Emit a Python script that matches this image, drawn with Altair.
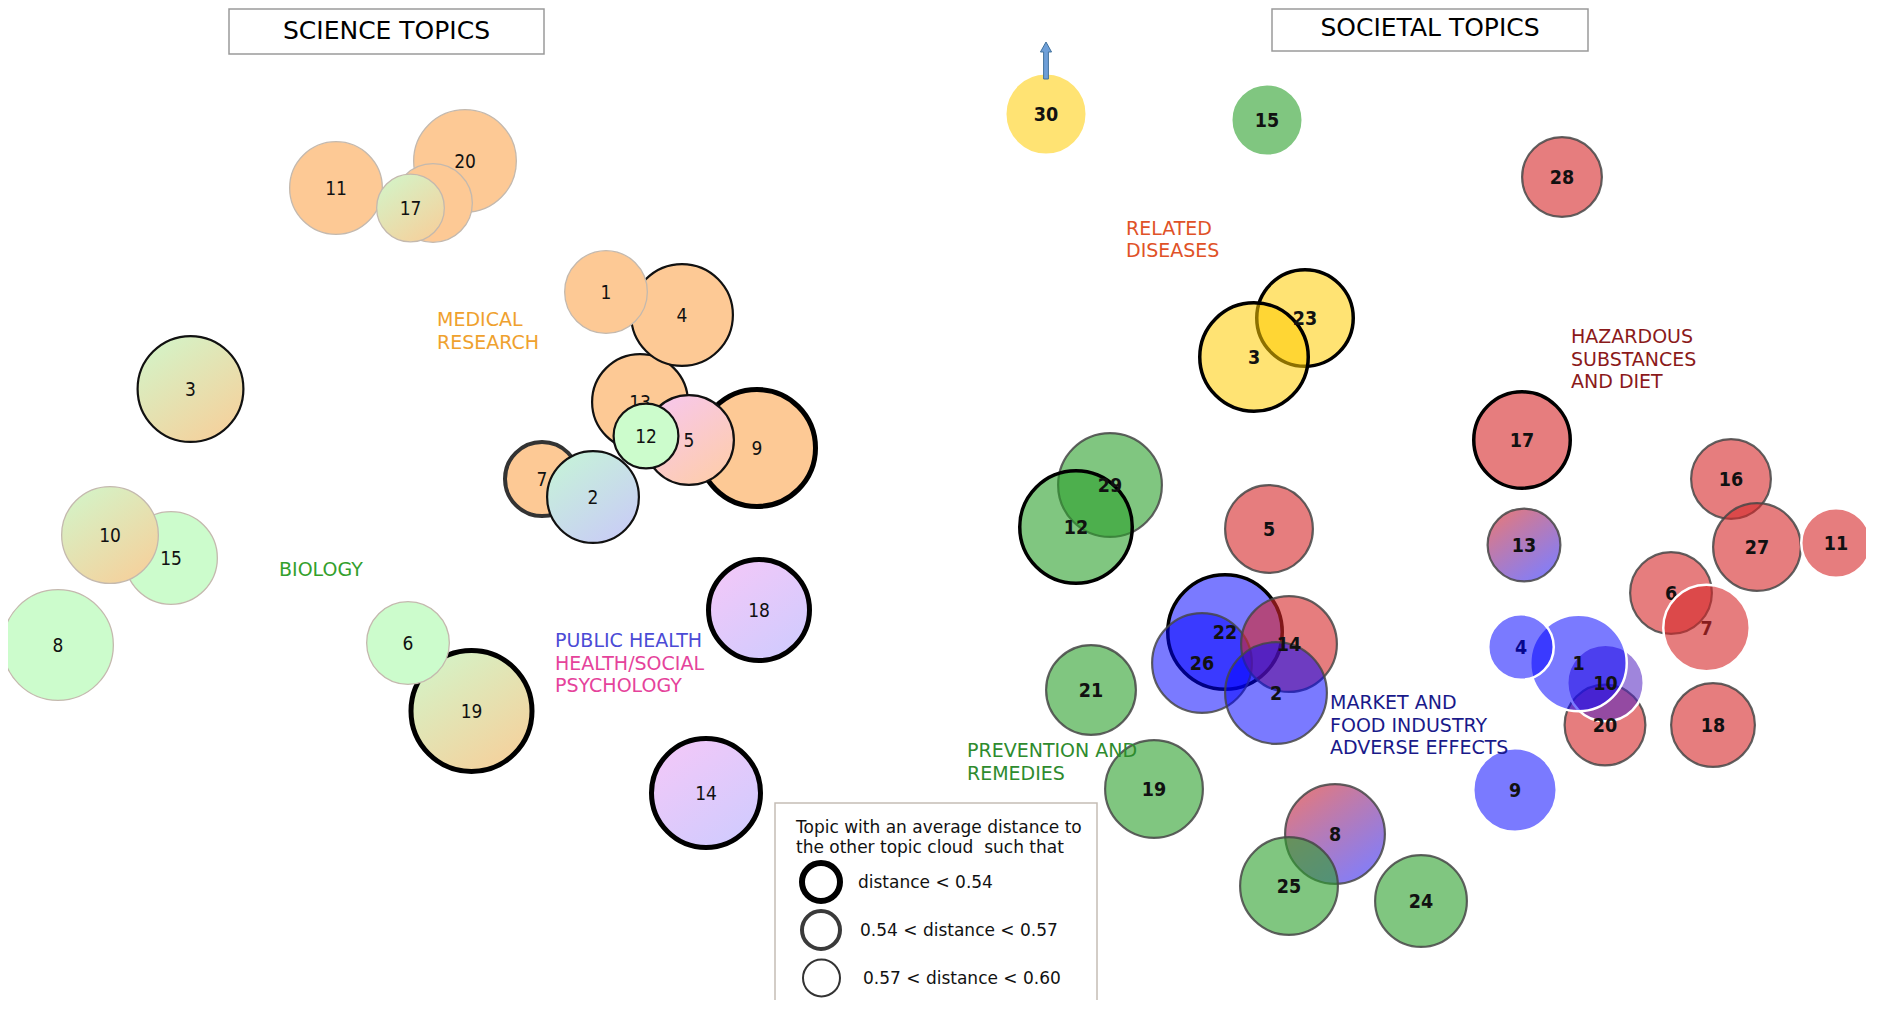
import altair as alt
import pandas as pd

W, H = 1858, 992
X0, Y0 = 8, 8

# ---------------- science topic cloud ----------------
SCI_TOPIC = [11, 20, 13, 4, 9, 7, 3, 8, 15, 19, 18, 14, 16, 1, 5, 2, 6, 10, 17, 12]
SCI_X = [336, 465, 640, 682, 757, 542, 190.5, 58, 171, 471.5, 759, 706, 433, 606, 689, 593, 408, 110, 410.5, 646]
SCI_Y = [188, 161, 402, 315, 448, 479, 389, 645, 558, 711, 610, 793, 203, 292, 440, 497, 643, 535, 208, 436]
SCI_R = [47, 52, 49, 52, 61, 39, 54, 56, 47, 63, 53, 57, 40, 42, 46, 47, 42, 49, 34.5, 33.5]
SCI_GROUP = ["medical", "medical", "medical", "medical", "medical", "medical", "bio-med", "biology",
             "biology", "bio-med", "psychology", "psychology", "medical", "medical", "psy-med",
             "bio-public", "biology", "bio-med", "bio-med", "biology"]
SCI_DIST = [">0.60", ">0.60", "0.57-0.60", "0.57-0.60", "<0.54", "0.54-0.57", "0.57-0.60", ">0.60",
            ">0.60", "<0.54", "<0.54", "<0.54", ">0.60", ">0.60", "0.57-0.60", "0.57-0.60",
            ">0.60", ">0.60", ">0.60", "0.57-0.60"]
SCI_LAYER = [0, 0, 0, 0, 0, 0, 0, 0, 0, 0, 0, 0, 1, 1, 1, 1, 1, 1, 2, 2]

# ---------------- societal topic cloud ----------------
SOC_TOPIC = [30, 15, 28, 23, 3, 17, 16, 29, 12, 5, 13, 27, 11, 6, 22, 26, 14, 2, 21, 20, 10, 1,
             18, 9, 19, 8, 25, 24, 4, 7]
SOC_X = [1046, 1267, 1562, 1305, 1254, 1522, 1731, 1110, 1076, 1269, 1524, 1757, 1836, 1671, 1225,
         1202, 1289, 1276, 1091, 1605, 1605.5, 1578.5, 1713, 1515, 1154, 1335, 1289, 1421, 1521, 1706.5]
SOC_Y = [114, 120, 177, 318, 357, 440, 479, 485, 527, 529, 545, 547, 543, 593, 632, 663, 644, 693,
         690, 725, 683, 663, 725, 790, 789, 834, 886, 901, 647, 628]
SOC_R = [42, 37, 41, 50, 56, 50, 41, 53, 58, 45, 37.5, 45, 36, 42, 59, 51, 49, 52, 46, 41.5, 39.5,
         49.5, 43, 43, 50, 51, 50, 47, 34, 44.5]
SOC_GROUP = ["diseases", "prevention", "hazardous", "diseases", "diseases", "hazardous", "hazardous",
             "prevention", "prevention", "hazardous", "haz-market", "hazardous", "hazardous",
             "hazardous", "market", "market", "hazardous", "market", "prevention", "hazardous",
             "mixed", "market", "hazardous", "market", "prevention", "haz-market", "prevention",
             "prevention", "market", "hazardous"]
SOC_DIST = [">0.60", ">0.60", "0.57-0.60", "<0.54", "<0.54", "<0.54", "0.57-0.60", "0.57-0.60",
            "<0.54", "0.57-0.60", "0.57-0.60", "0.57-0.60", ">0.60", "0.57-0.60", "<0.54",
            "0.57-0.60", "0.57-0.60", "0.57-0.60", "0.57-0.60", "0.57-0.60", ">0.60", ">0.60",
            "0.57-0.60", ">0.60", "0.57-0.60", "0.57-0.60", "0.57-0.60", "0.57-0.60", ">0.60", ">0.60"]
SOC_LAYER = [0] * 28 + [1, 1]

# ---------------- annotation texts ----------------
CAT_TEXT = ["MEDICAL\nRESEARCH", "BIOLOGY", "PUBLIC HEALTH", "HEALTH/SOCIAL\nPSYCHOLOGY",
            "RELATED\nDISEASES", "HAZARDOUS\nSUBSTANCES\nAND DIET", "PREVENTION AND\nREMEDIES",
            "MARKET AND\nFOOD INDUSTRY\nADVERSE EFFECTS"]
CAT_X = [437, 279, 555, 555, 1126, 1571, 967, 1330]
CAT_Y = [319, 568.5, 640, 662.5, 227.5, 336, 750, 702]
CAT_COLOR = ["#EFA12E", "#33A02C", "#4B4BD6", "#E5439B", "#E05228", "#8B1A1A", "#2E8B2E", "#1A1A8A"]

TITLES = ["SCIENCE TOPICS", "SOCIETAL TOPICS"]
TITLE_X = [386.5, 1430]
TITLE_Y = [30, 27]
TITLE_HALF_W = [157.5, 158]
TITLE_HALF_H = [24, 24]

LEGEND_TITLE = ["Topic with an average distance to", "the other topic cloud\u00a0 such that"]
LEGEND_ITEMS = ["distance < 0.54", "0.54 < distance < 0.57", "0.57 < distance < 0.60"]


def grad(c1, c2):
    return {"gradient": "linear", "x1": 0.15, "y1": 0.0, "x2": 0.85, "y2": 1.0,
            "stops": [{"offset": 0, "color": c1}, {"offset": 1, "color": c2}]}


FILL = {
    "science": {
        "medical": "#FDC995", "biology": "#CCFCCC",
        "bio-med": grad("#D3F4C8", "#F7CF9A"), "bio-public": grad("#C6F3D8", "#C9CBF7"),
        "psy-med": grad("#F7C7EE", "#FECDA9"), "psychology": grad("#F3C8F8", "#CFCBFE"),
    },
    "societal": {
        "diseases": "rgba(255,204,0,0.55)", "prevention": "rgba(44,160,44,0.6)",
        "hazardous": "rgba(214,39,40,0.6)", "market": "rgba(0,0,255,0.52)",
        "mixed": "rgba(80,32,192,0.55)",
        "haz-market": grad("rgba(214,39,40,0.62)", "rgba(20,20,255,0.55)"),
    },
}
STROKE = {
    "science": {"<0.54": ("#000000", 5), "0.54-0.57": ("#333333", 4),
                "0.57-0.60": ("#111111", 2.2), ">0.60": ("#C4B9AE", 1.3)},
    "societal": {"<0.54": ("#000000", 3.5), "0.54-0.57": ("#333333", 3),
                 "0.57-0.60": ("rgba(70,70,70,0.85)", 2.2), ">0.60": ("#FFFFFF", 2.5)},
}

rows = []
for side, T, X, Y, R, G, D, L in [
    ("science", SCI_TOPIC, SCI_X, SCI_Y, SCI_R, SCI_GROUP, SCI_DIST, SCI_LAYER),
    ("societal", SOC_TOPIC, SOC_X, SOC_Y, SOC_R, SOC_GROUP, SOC_DIST, SOC_LAYER),
]:
    for t, x, y, r, g, d, lv in zip(T, X, Y, R, G, D, L):
        col, sw = STROKE[side][d]
        rows.append(dict(side=side, topic=str(t), x=x, y=y, r=r - sw / 2.0,
                         fill=FILL[side][g], stroke=col, sw=sw, z=lv,
                         tz=(lv if side == "science" else 0)))
bubbles = pd.DataFrame(rows)

cat_rows = []
for txt, x, y, c in zip(CAT_TEXT, CAT_X, CAT_Y, CAT_COLOR):
    for i, line in enumerate(txt.split("\n")):
        cat_rows.append(dict(text=line, x=x, y=y + 1 + i * 22.7, color=c))
cats = pd.DataFrame(cat_rows)

titles = pd.DataFrame(dict(text=TITLES, x=TITLE_X, y=TITLE_Y,
                           x1=[a - b for a, b in zip(TITLE_X, TITLE_HALF_W)],
                           x2=[a + b for a, b in zip(TITLE_X, TITLE_HALF_W)],
                           y1=[max(a - b, Y0 + 1) for a, b in zip(TITLE_Y, TITLE_HALF_H)],
                           y2=[a + b for a, b in zip(TITLE_Y, TITLE_HALF_H)]))

legend_box = pd.DataFrame(dict(x1=[775], x2=[1097], y1=[803], y2=[1040]))
legend_title = pd.DataFrame(dict(text=LEGEND_TITLE, x=[796, 796], y=[827, 847]))
legend_items = pd.DataFrame(dict(text=LEGEND_ITEMS, sx=[821, 821, 821.5], tx=[858, 860, 863],
                                 y=[882, 930, 978], r=[22 - 3, 21 - 2, 19.5 - 1],
                                 stroke=["#000000", "#3A3A3A", "#333333"], sw=[6, 4, 2]))

i30 = SOC_TOPIC.index(30)
arrow = pd.DataFrame(dict(x=[SOC_X[i30]], y=[SOC_Y[i30] - SOC_R[i30] - 11.5]))

xs = alt.Scale(domain=[X0, X0 + W], nice=False, zero=False)
ys = alt.Scale(domain=[Y0, Y0 + H], nice=False, zero=False, reverse=True)
size_scale = alt.Scale(type="pow", exponent=2, domain=[0, 100], range=[0, 40000])
NUM_FONT = "DejaVu Sans Condensed, DejaVu Sans"


def X(f="x"):
    return alt.X(f"{f}:Q", scale=xs, axis=None)


def Y(f="y"):
    return alt.Y(f"{f}:Q", scale=ys, axis=None)


layers = []
# boxes
layers.append(alt.Chart(titles).mark_rect(fill="white", stroke="#9A9A9A", strokeWidth=1.5).encode(
    x=X("x1"), x2="x2:Q", y=Y("y1"), y2="y2:Q"))
layers.append(alt.Chart(legend_box).mark_rect(fill="white", stroke="#C5BDB5", strokeWidth=1.5).encode(
    x=X("x1"), x2="x2:Q", y=Y("y1"), y2="y2:Q"))

base = alt.Chart(bubbles)
for k in range(3):
    layers.append(base.transform_filter(alt.datum.z == k).mark_point(
        shape="circle", filled=True, opacity=1).encode(
        x=X(), y=Y(),
        size=alt.Size("r:Q", scale=size_scale, legend=None),
        fill=alt.Fill("fill:N", scale=None),
        stroke=alt.Stroke("stroke:N", scale=None),
        strokeWidth=alt.StrokeWidth("sw:Q", scale=None)))
    for side, weight, fs in [("science", "normal", 19), ("societal", "bold", 19.5)]:
        layers.append(base.transform_filter((alt.datum.tz == k) & (alt.datum.side == side)).mark_text(
            font=NUM_FONT, fontSize=fs, fontWeight=weight, color="#111111",
            align="center", baseline="middle", dy=1).encode(x=X(), y=Y(), text="topic:N"))

# category labels
layers.append(alt.Chart(cats).mark_text(font="DejaVu Sans", fontSize=19, align="left",
                                        baseline="middle").encode(
    x=X(), y=Y(), text="text:N", color=alt.Color("color:N", scale=None)))

# arrow above topic 30
layers.append(alt.Chart(arrow).mark_point(
    shape="M -0.13 1 L -0.13 -0.46 L -0.3 -0.46 L 0 -1 L 0.3 -0.46 L 0.13 -0.46 L 0.13 1 Z",
    filled=True, size=1369, fill="#6E9FD8", stroke="#41719C", strokeWidth=1, opacity=1).encode(
    x=X(), y=Y()))

# titles
layers.append(alt.Chart(titles).mark_text(font="DejaVu Sans", fontSize=25, color="black",
                                          align="center", baseline="middle", dy=1).encode(
    x=X(), y=Y(), text="text:N"))

# legend
layers.append(alt.Chart(legend_title).mark_text(font="DejaVu Sans", fontSize=17, color="#111111",
                                                align="left", baseline="middle", dy=1).encode(
    x=X(), y=Y(), text="text:N"))
layers.append(alt.Chart(legend_items).mark_point(shape="circle", filled=False, opacity=1,
                                                 fill="white").encode(
    x=X("sx"), y=Y(), size=alt.Size("r:Q", scale=size_scale, legend=None),
    stroke=alt.Stroke("stroke:N", scale=None), strokeWidth=alt.StrokeWidth("sw:Q", scale=None)))
layers.append(alt.Chart(legend_items).mark_text(font="DejaVu Sans", fontSize=17, color="#111111",
                                                align="left", baseline="middle", dy=1).encode(
    x=X("tx"), y=Y(), text="text:N"))

chart = alt.layer(*layers).properties(
    width=W, height=H, padding=0, autosize=alt.AutoSizeParams(type="none")
).configure_view(stroke=None)

chart.save("out.html", embed_options={"renderer": "svg", "actions": False})
